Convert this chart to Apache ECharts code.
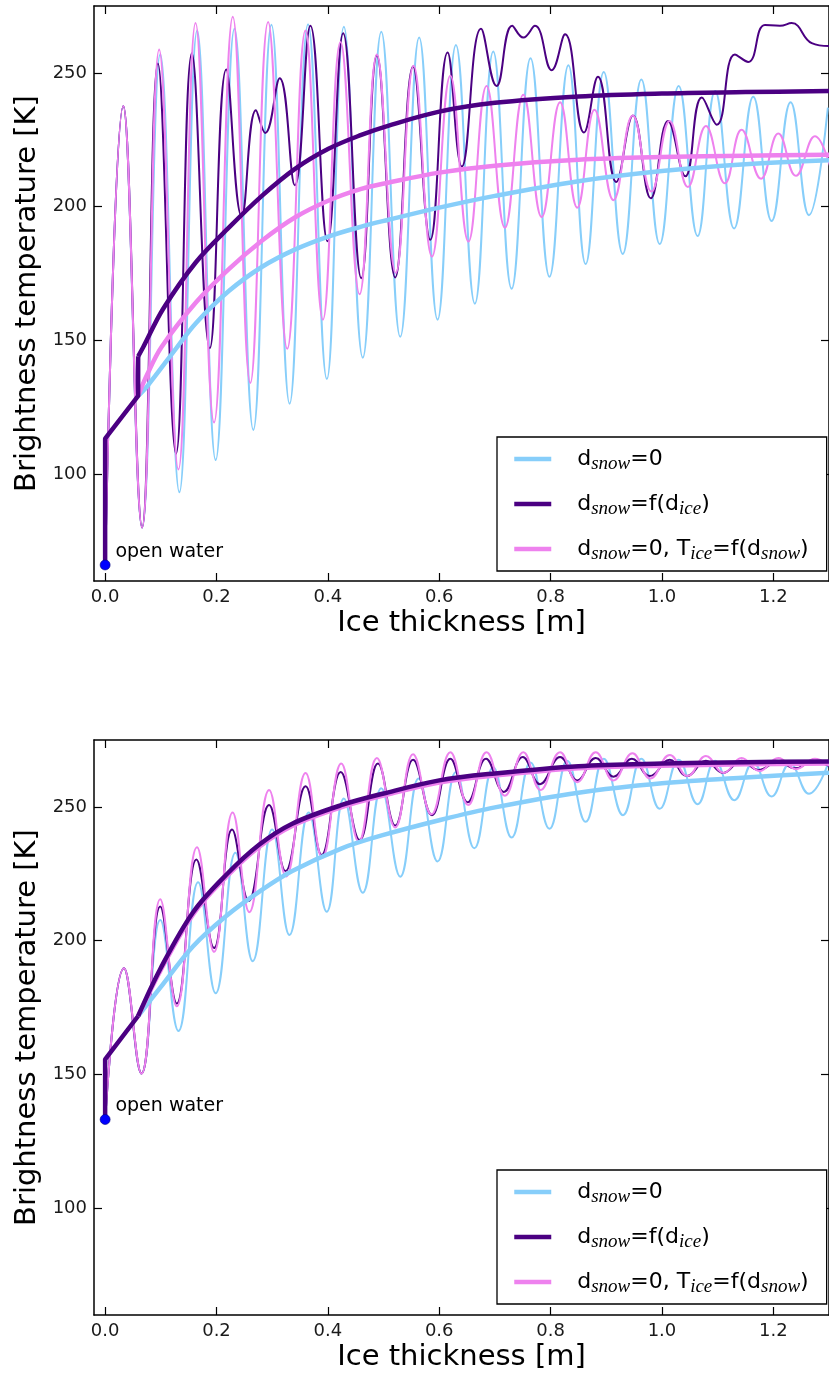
<!DOCTYPE html>
<html><head><meta charset="utf-8">
<script src="https://cdn.jsdelivr.net/npm/echarts@6/dist/echarts.min.js"></script>
<style>html,body{margin:0;padding:0;background:#fff}#chart{width:829px;height:1375px}</style>
</head><body><div id="chart"></div>
<script>
// ---------- tick labels ----------
const xTicks = [0, 0.2, 0.4, 0.6, 0.8, 1.0, 1.2];
const yTicks = [100, 150, 200, 250];

// ---------- legend names ----------
const NAME_SNOW0 = 'd_snow=0';
const NAME_SNOWF = 'd_snow=f(d_ice)';
const NAME_SNOW0T = 'd_snow=0, T_ice=f(d_snow)';

// ---------- TOP PANEL ----------
const topOpenWater = [[0, 66]];
// oscillating curves (peaks / troughs)
const topSnow0Osc = [[0,66],[0.0326,237.6],[0.0664,80],[0.099,257],[0.1333,93.2],[0.1653,265.8],[0.1985,105.2],[0.2323,266.5],[0.2661,116.5],[0.2987,268],[0.3313,126.3],[0.3644,268.2],[0.3982,135.5],[0.4287,267.2],[0.4627,143.5],[0.496,265.4],[0.530,151.3],[0.564,263.2],[0.597,157.7],[0.630,260.4],[0.664,163.7],[0.697,258],[0.730,169.3],[0.764,255.5],[0.798,173.8],[0.832,252.8],[0.863,178.5],[0.8955,250.3],[0.9296,182.3],[0.963,247.5],[0.996,186],[1.030,245.1],[1.064,189],[1.0955,243.2],[1.1296,191.8],[1.164,241.1],[1.197,194.6],[1.231,239],[1.264,196.8],[1.298,237]];
const topSnowFOsc = [[0,66],[0.0326,237.6],[0.0664,80],[0.0948,253.5],[0.1274,107.6],[0.1558,257.3],[0.1879,147],[0.2175,251.3],[0.2453,196.3],[0.2708,236],[0.2874,227.5],[0.3135,248],[0.3407,208],[0.3686,267.6],[0.3994,187],[0.4275,264.8],[0.460,173.2],[0.488,256.6],[0.521,173.5],[0.553,252.4],[0.584,187.6],[0.615,257.6],[0.6406,215],[0.675,266.5],[0.703,245.1],[0.731,267.6],[0.751,263.2],[0.772,267.6],[0.802,251],[0.826,264.4],[0.860,227.7],[0.885,248.5],[0.918,209.2],[0.948,234.1],[0.980,203.1],[1.011,232],[1.042,211.3],[1.0716,240.8],[1.0985,230.6],[1.131,256.9],[1.155,254.1],[1.185,267.9],[1.212,267.6],[1.233,268.6],[1.269,261.1],[1.30,260]];
const topSnow0TOsc = [[0,66],[0.0326,237.6],[0.0664,80],[0.097,258.7],[0.1316,101.7],[0.1624,268.6],[0.1956,119.3],[0.2293,271],[0.2607,134],[0.2927,269],[0.3271,146.8],[0.3597,265.8],[0.3911,157.7],[0.4227,261.5],[0.457,167.2],[0.488,256.9],[0.522,175.2],[0.554,252.7],[0.587,181.3],[0.620,248.9],[0.6525,186.9],[0.685,245.1],[0.718,192.1],[0.751,241.8],[0.784,196.1],[0.817,239],[0.848,199.6],[0.879,236.2],[0.913,202.4],[0.9475,234.1],[0.981,205.6],[1.0137,232],[1.0466,207.3],[1.079,230.1],[1.113,208.7],[1.143,228.7],[1.178,210.4],[1.209,227.3],[1.2406,211.5],[1.2746,226.3],[1.306,212]];
// smooth mean curves
const topSnowFStraight = [[0,66],[0,113.2],[0.0593,129.2],[0.0593,144]];
const topSnowFMean = [[0.0593,144],[0.0683,147.4],[0.104,161.7],[0.163,179.2],[0.223,192.3],[0.282,204.1],[0.341,214.1],[0.401,221.6],[0.46,226.8],[0.508,230.2],[0.6,235.5],[0.7,238.8],[0.85,241.2],[1.0,242.3],[1.15,242.8],[1.3,243.2]];
const topSnow0TMean = [[0.0593,129.2],[0.075,137],[0.101,147.4],[0.1633,164.2],[0.2226,176.7],[0.282,187.3],[0.3414,196],[0.4007,202.2],[0.46,206.6],[0.5076,208.9],[0.6,212.7],[0.7,215.3],[0.85,217.5],[1.0,218.5],[1.15,219],[1.3,219.4]];
const topSnow0Mean = [[0.0593,129.2],[0.0754,132.8],[0.1276,147],[0.1633,156.5],[0.2226,168.5],[0.282,177.5],[0.3414,184],[0.4007,188.8],[0.46,192.5],[0.5076,195],[0.6,199.6],[0.7,204],[0.85,209.5],[1.0,213.3],[1.15,215.8],[1.3,217.3]];

// ---------- BOTTOM PANEL ----------
const botOpenWater = [[0, 133.1]];
const botSnow0Osc = [[0,133.1],[0.0338,189.7],[0.0652,150.3],[0.099,207.7],[0.1316,166.2],[0.167,221.8],[0.1985,180.3],[0.234,232.8],[0.265,192.3],[0.3,241.5],[0.331,202.1],[0.3656,247.9],[0.398,210.8],[0.4287,253.1],[0.4627,217.9],[0.496,257],[0.530,223.9],[0.563,260.6],[0.597,229.6],[0.630,263],[0.663,234.5],[0.697,264.8],[0.730,238.5],[0.764,266.6],[0.798,241.8],[0.830,267.2],[0.863,244.4],[0.8955,268],[0.93,246.9],[0.963,268],[0.996,249.3],[1.03,267.6],[1.064,251],[1.0955,267.2],[1.13,252.5],[1.164,266.6],[1.197,253.9],[1.23,266.2],[1.264,254.9],[1.298,266]];
const botSnowFOsc = [[0,133.1],[0.0338,189.7],[0.0652,150.3],[0.099,212.7],[0.1286,176.5],[0.164,230.3],[0.1956,197.2],[0.228,241.5],[0.2578,214.8],[0.2945,250.7],[0.324,226],[0.36,257.7],[0.389,232],[0.423,263],[0.457,237.6],[0.49,266.2],[0.521,243],[0.553,267.6],[0.587,246.9],[0.620,268],[0.651,251.7],[0.684,268],[0.716,255.6],[0.750,268.6],[0.781,258.5],[0.817,268.6],[0.848,259.9],[0.881,268.3],[0.913,261.3],[0.946,268],[0.978,261.5],[1.014,267.6],[1.045,261.5],[1.079,267.2],[1.11,262.7],[1.143,267.2],[1.173,263.8],[1.209,266.9],[1.239,264.4],[1.272,266.9],[1.305,264.8]];
const botSnow0TOsc = [[0,133.1],[0.0338,189.7],[0.0652,150.3],[0.099,215.5],[0.1286,175.4],[0.165,234.9],[0.1956,195.8],[0.229,247.9],[0.259,210.6],[0.2945,256.3],[0.325,224],[0.36,262.7],[0.39,231],[0.424,266.2],[0.4555,237],[0.488,268.3],[0.521,242.3],[0.553,269.7],[0.586,247.2],[0.620,270.4],[0.652,250.7],[0.685,270.4],[0.718,254.2],[0.751,270.4],[0.782,256.3],[0.817,270.4],[0.848,259.2],[0.881,270.4],[0.913,259.9],[0.947,270],[0.979,260.6],[1.014,269.4],[1.046,261.5],[1.079,269],[1.111,262.7],[1.143,268.3],[1.175,263.4],[1.209,268.3],[1.2406,264.1],[1.2746,268],[1.306,264.5]];
const botSnowFStraight = [[0,133.1],[0,155.6],[0.0593,171.8]];
const botSnowFMean = [[0.0593,171.8],[0.099,189.4],[0.158,210.6],[0.2175,224.6],[0.277,235.9],[0.336,243.7],[0.425,250.7],[0.5,255],[0.6,259.9],[0.7,262.5],[0.85,265.2],[1.0,266.2],[1.15,266.7],[1.3,267]];
const botSnow0TMean = [[0.0593,171.8],[0.099,188.6],[0.158,209.8],[0.2175,223.8],[0.277,235.1],[0.336,242.9],[0.425,249.9],[0.5,254.2],[0.6,259.1],[0.7,261.7],[0.85,264.4],[1.0,265.4],[1.15,265.9],[1.3,266.2]];
const botSnow0Mean = [[0.0593,171.8],[0.099,182.4],[0.158,197.9],[0.2175,209.2],[0.277,218.3],[0.336,226],[0.425,234.5],[0.5,239.5],[0.6,245],[0.7,249.8],[0.85,255.3],[1.0,258.8],[1.15,261],[1.3,262.8]];

// ---------- styling ----------
const C_LB = '#87CEFA', C_IND = '#4B0082', C_VIO = '#EE82EE';
const FONT = 'DejaVu Sans';

const chart = echarts.init(document.getElementById('chart'), null, {renderer: 'canvas'});

function xAx(gridIndex, pos, main) {
  return {
    type: 'value', gridIndex, position: pos, min: -0.02, max: 1.3,
    axisLine: {show: true, onZero: false, lineStyle: {color: '#000', width: 1.5}},
    axisTick: {show: true, inside: true, length: 8, customValues: xTicks, lineStyle: {color: '#000', width: 1.2}},
    axisLabel: {show: main, customValues: xTicks, formatter: v => v.toFixed(1), margin: 7,
      color: '#1a1a1a', fontSize: 18, fontFamily: FONT},
    splitLine: {show: false},
    name: main ? 'Ice thickness [m]' : '', nameLocation: 'middle', nameGap: 28,
    nameTextStyle: {fontSize: 29, fontFamily: FONT, color: '#000'}
  };
}
function yAx(gridIndex, pos, main) {
  return {
    type: 'value', gridIndex, position: pos, min: 60, max: 275,
    axisLine: {show: true, onZero: false, lineStyle: {color: '#000', width: 1.5}},
    axisTick: {show: true, inside: true, length: 8, customValues: yTicks, lineStyle: {color: '#000', width: 1.2}},
    axisLabel: {show: main, customValues: yTicks, formatter: v => String(v), margin: 7,
      color: '#1a1a1a', fontSize: 18, fontFamily: FONT},
    splitLine: {show: false},
    name: main ? 'Brightness temperature [K]' : '', nameLocation: 'middle', nameGap: 52,
    nameTextStyle: {fontSize: 29, fontFamily: FONT, color: '#000'}
  };
}
function line(name, data, color, width, ai, smooth) {
  return {type: 'line', name, data, xAxisIndex: ai, yAxisIndex: ai, symbol: 'none', showSymbol: false,
    smooth, lineStyle: {color, width}, itemStyle: {color}, silent: true, animation: false};
}
function openWater(data, ai) {
  return {type: 'scatter', data, xAxisIndex: ai, yAxisIndex: ai, symbolSize: 10, silent: true,
    itemStyle: {color: '#0000ff', opacity: 1, borderColor: '#00007a', borderWidth: 0.6},
    label: {show: true, formatter: 'open water', position: 'right', distance: 5, offset: [0, -13],
      fontSize: 19, fontFamily: FONT, color: '#000', opacity: 1}, z: 10, animation: false};
}
const legendRich = {
  sp: {width: 21, fontSize: 4},
  m: {fontFamily: FONT, fontSize: 22, lineHeight: 28, color: '#000'},
  s: {fontFamily: 'Liberation Serif', fontStyle: 'italic', fontSize: 19, lineHeight: 16, verticalAlign: 'bottom', color: '#000'}
};
const legendLabels = {};
legendLabels[NAME_SNOW0] = '{sp| }{m|d}{s|snow}{m|=0}';
legendLabels[NAME_SNOWF] = '{sp| }{m|d}{s|snow}{m|=f(d}{s|ice}{m|)}';
legendLabels[NAME_SNOW0T] = '{sp| }{m|d}{s|snow}{m|=0, T}{s|ice}{m|=f(d}{s|snow}{m|)}';
function legend(top) {
  return {
    data: [NAME_SNOW0, NAME_SNOWF, NAME_SNOW0T], orient: 'vertical', left: 497, top,
    padding: [11, 18, 8, 15], itemGap: 20, itemWidth: 37, itemHeight: 10,
    borderColor: '#000', borderWidth: 1.3, backgroundColor: '#fff', selectedMode: false,
    itemStyle: {opacity: 0}, lineStyle: {width: 4.5, opacity: 1},
    formatter: n => legendLabels[n], textStyle: {rich: legendRich}
  };
}

function panel(ai, d) {
  return [
    line(NAME_SNOW0 + ' osc', d.s0o, C_LB, 2, ai, 0.45),
    line(NAME_SNOWF + ' osc', d.sfo, C_IND, 2, ai, 0.45),
    line(NAME_SNOW0T + ' osc', d.s0to, C_VIO, 2, ai, 0.45),
    line(NAME_SNOW0, d.s0m, C_LB, 4.5, ai, 0.35),
    line(NAME_SNOW0T, d.s0tm, C_VIO, 4.5, ai, 0.35),
    line(NAME_SNOWF, d.sfs, C_IND, 4.5, ai, false),
    line(NAME_SNOWF, d.sfm, C_IND, 4.5, ai, 0.35),
    openWater(d.ow, ai)
  ];
}

chart.setOption({
  animation: false,
  backgroundColor: '#fff',
  grid: [
    {left: 94, top: 6, width: 741, height: 575},
    {left: 94, top: 740, width: 741, height: 575}
  ],
  xAxis: [xAx(0, 'bottom', true), xAx(0, 'top', false), xAx(1, 'bottom', true), xAx(1, 'top', false)],
  yAxis: [yAx(0, 'left', true), yAx(0, 'right', false), yAx(1, 'left', true), yAx(1, 'right', false)],
  legend: [legend(437), legend(1170)],
  series: [].concat(
    panel(0, {s0o: topSnow0Osc, sfo: topSnowFOsc, s0to: topSnow0TOsc, s0m: topSnow0Mean, s0tm: topSnow0TMean,
      sfs: topSnowFStraight, sfm: topSnowFMean, ow: topOpenWater}),
    panel(2, {s0o: botSnow0Osc, sfo: botSnowFOsc, s0to: botSnow0TOsc, s0m: botSnow0Mean, s0tm: botSnow0TMean,
      sfs: botSnowFStraight, sfm: botSnowFMean, ow: botOpenWater})
  )
});
</script>
</body></html>
